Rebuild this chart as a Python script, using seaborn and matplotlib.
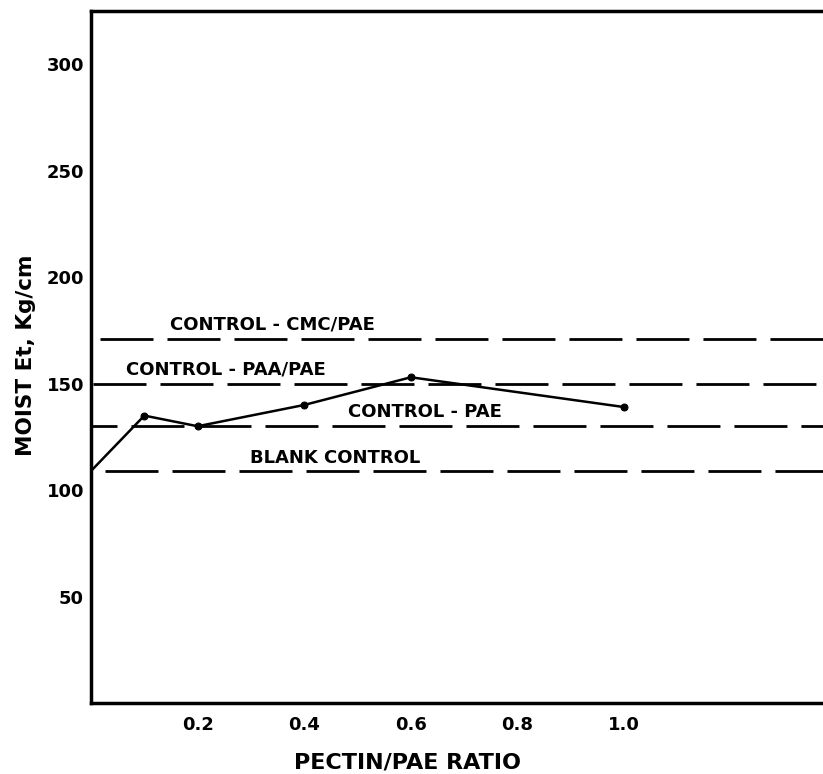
import matplotlib
matplotlib.use("Agg")
import matplotlib.pyplot as plt
import seaborn as sns
import pandas as pd

# ---- data ----
ratio = [0.0, 0.1, 0.2, 0.4, 0.6, 1.0]
moist_et = [109, 135, 130, 140, 153, 139]

control_names = ["CONTROL - CMC/PAE", "CONTROL - PAA/PAE", "CONTROL - PAE", "BLANK CONTROL"]
control_values = [171, 150, 130, 109]

x_ticks = [0.2, 0.4, 0.6, 0.8, 1.0]
x_tick_labels = ["0.2", "0.4", "0.6", "0.8", "1.0"]
y_ticks = [50, 100, 150, 200, 250, 300]
y_tick_labels = ["50", "100", "150", "200", "250", "300"]

sns.set_style("white")
plt.rcParams["font.family"] = ["DejaVu Sans"]
plt.rcParams["font.weight"] = "bold"
plt.rcParams["text.color"] = "black"
plt.rcParams["axes.labelcolor"] = "black"
plt.rcParams["lines.scale_dashes"] = False

fig = plt.figure(figsize=(8.23, 7.74), dpi=100)
ax = fig.add_axes([0.1106, 0.0917, 0.8894, 0.894])

df = pd.DataFrame({"ratio": ratio, "moist": moist_et})
sns.lineplot(data=df, x="ratio", y="moist", ax=ax, color="black", lw=1.8,
             marker="o", markersize=5, markevery=[1, 2, 3, 4, 5],
             markeredgecolor="black", markerfacecolor="black")

px = 1 / 1.389  # pixels to points
dash_on, dash_off = 53 * px, 14 * px
offsets = [58 * px, 65 * px, 27 * px, 53 * px]
for val, off in zip(control_values, offsets):
    ax.axhline(val, color="black", lw=2.0, linestyle=(off, (dash_on, dash_off)))

label_pos = [(0.34, 178), (0.253, 156.5), (0.627, 136.5), (0.457, 115)]
for name, (lx, ly) in zip(control_names, label_pos):
    ax.text(lx, ly, name, ha="center", va="center", fontsize=13,
            fontweight="bold", color="black")

ax.set_xlim(0, 1.373)
ax.set_ylim(0, 325)
ax.set_xticks(x_ticks)
ax.set_xticklabels(x_tick_labels, fontsize=13, fontweight="bold")
ax.set_yticks(y_ticks)
ax.set_yticklabels(y_tick_labels, fontsize=13, fontweight="bold")
ax.tick_params(axis="x", direction="in", length=9, width=1.8, pad=9,
               colors="black")
ax.tick_params(axis="y", direction="in", length=8, width=2.2, pad=5,
               colors="black")

for side in ["left", "bottom", "top"]:
    ax.spines[side].set_color("black")
    ax.spines[side].set_linewidth(2.5)
ax.spines["right"].set_visible(False)

ax.set_xlabel("PECTIN/PAE RATIO", fontsize=16, fontweight="bold", color="black")
ax.xaxis.set_label_coords(0.432, -0.072)
ax.set_ylabel("MOIST Et, Kg/cm", fontsize=15.5, fontweight="bold", color="black")
ax.yaxis.set_label_coords(-0.075, 0.503)

fig.savefig("out.png", dpi=100)
